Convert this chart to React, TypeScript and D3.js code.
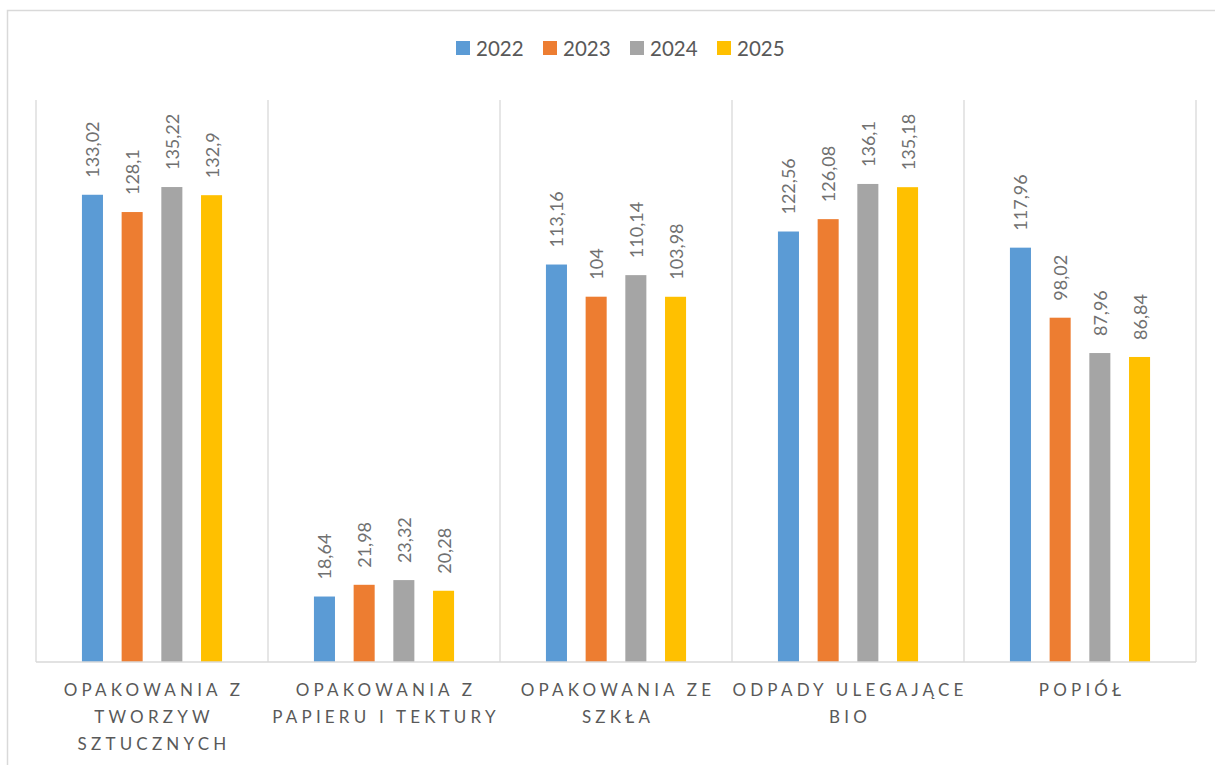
import React from "react";
import * as d3 from "d3";

const categories = [
  ["OPAKOWANIA Z", "TWORZYW", "SZTUCZNYCH"],
  ["OPAKOWANIA Z", "PAPIERU I TEKTURY"],
  ["OPAKOWANIA ZE", "SZKŁA"],
  ["ODPADY ULEGAJĄCE", "BIO"],
  ["POPIÓŁ"],
];
const categoryKeys = ["tworzywa", "papier", "szklo", "bio", "popiol"];
const seriesNames = ["2022", "2023", "2024", "2025"];
const seriesColors = ["#5b9bd5", "#ed7d31", "#a5a5a5", "#ffc000"];
const values2022 = [133.02, 18.64, 113.16, 122.56, 117.96];
const values2023 = [128.1, 21.98, 104, 126.08, 98.02];
const values2024 = [135.22, 23.32, 110.14, 136.1, 87.96];
const values2025 = [132.9, 20.28, 103.98, 135.18, 86.84];
const seriesValues = [values2022, values2023, values2024, values2025];

const W = 1215;
const H = 765;
const plot = { left: 36, right: 1196, top: 100, bottom: 662 };
const FONT = "Lato, 'Open Sans', sans-serif";

function fmt(v: number) {
  return String(v).replace(".", ",");
}

export default function App() {
  const x0 = d3.scaleBand<string>().domain(categoryKeys).range([plot.left, plot.right]).padding(0);
  const step = x0.bandwidth();
  const x1 = d3
    .scaleBand<string>()
    .domain(seriesNames)
    .range([step * 0.198, step * 0.802])
    .paddingInner(0.47)
    .paddingOuter(0);
  const y = d3.scaleLinear().domain([0, 160]).range([plot.bottom, plot.top]);

  const boundaries = categoryKeys.map((k) => x0(k) as number).concat([plot.right]);

  const legendStart = 456;
  const legendStep = 87;

  return (
    <svg
      width={W}
      height={H}
      style={{ position: "absolute", left: 0, top: 0, background: "#fff" }}
      fontFamily={FONT}
    >
      <rect x={0} y={0} width={W} height={H} fill="#fff" />
      {/* outer frame */}
      <rect x={7.5} y={10.5} width={1240} height={800} fill="none" stroke="#d9d9d9" strokeWidth={1.5} />

      {/* legend */}
      {seriesNames.map((s, i) => (
        <g key={s} transform={`translate(${legendStart + i * legendStep},0)`}>
          <rect x={0} y={41} width={14} height={14} fill={seriesColors[i]} />
          <text x={20} y={55.5} fontSize={20.5} fill="#595959">
            {s}
          </text>
        </g>
      ))}

      {/* vertical category gridlines */}
      {boundaries.map((bx, i) => (
        <line key={i} x1={bx} x2={bx} y1={plot.top} y2={plot.bottom} stroke="#d9d9d9" strokeWidth={1.3} />
      ))}

      {/* bars */}
      {categoryKeys.map((k, ci) => (
        <g key={k} transform={`translate(${x0(k)},0)`}>
          {seriesNames.map((s, si) => {
            const v = seriesValues[si][ci];
            const bx = x1(s) as number;
            const bw = x1.bandwidth();
            const cx = bx + bw / 2;
            const ty = y(v) - 17;
            return (
              <g key={s}>
                <rect x={bx} y={y(v)} width={bw} height={y(0) - y(v)} fill={seriesColors[si]} />
                <text
                  transform={`translate(${cx},${ty}) rotate(-90)`}
                  dominantBaseline="central"
                  fontSize={18}
                  fill="#707070"
                >
                  {fmt(v)}
                </text>
              </g>
            );
          })}
        </g>
      ))}

      {/* baseline */}
      <line x1={plot.left} x2={plot.right} y1={plot.bottom} y2={plot.bottom} stroke="#d9d9d9" strokeWidth={1.5} />

      {/* category labels */}
      {categoryKeys.map((k, ci) => (
        <text
          key={k}
          textAnchor="middle"
          fontSize={17}
          fill="#595959"
          letterSpacing={4.2}
        >
          {categories[ci].map((line, li) => (
            <tspan key={li} x={(x0(k) as number) + step / 2 + 2} y={696 + li * 27}>
              {line}
            </tspan>
          ))}
        </text>
      ))}
    </svg>
  );
}
